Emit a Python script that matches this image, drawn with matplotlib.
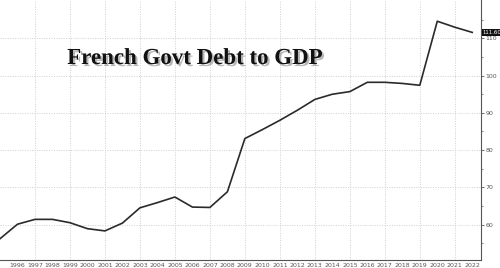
import numpy as np
import matplotlib.pyplot as plt
import matplotlib.patheffects as pe

# French government debt to GDP (%)
years = [1995, 1996, 1997, 1998, 1999, 2000, 2001, 2002, 2003, 2004, 2005,
         2006, 2007, 2008, 2009, 2010, 2011, 2012, 2013, 2014, 2015, 2016,
         2017, 2018, 2019, 2020, 2021, 2022]
debt = [56.2, 60.1, 61.4, 61.4, 60.5, 58.9, 58.3, 60.4, 64.5, 65.9, 67.4,
        64.7, 64.6, 68.8, 83.1, 85.5, 88.0, 90.7, 93.6, 95.0, 95.7, 98.2,
        98.2, 97.9, 97.4, 114.6, 113.0, 111.6]
x_labels = [str(y) for y in range(1996, 2023)]
y_ticks = [60, 70, 80, 90, 100, 110]
last_label = "111.60"

fig = plt.figure(figsize=(5, 2.68), dpi=100)
ax = fig.add_axes([0.0, 0.03, 0.962, 0.97])

ax.plot(years, debt, color="#2a2a2a", linewidth=1.2, zorder=3)

ax.set_xlim(1995, 2022.5)
ax.set_ylim(50.5, 120.3)

# grid: horizontal every 10, vertical every other year
ax.set_yticks(y_ticks)
ax.set_yticks(np.arange(55, 120, 10), minor=True)
ax.set_xticks(range(1996, 2023))
ax.set_xticklabels(x_labels)
for yy in y_ticks:
    ax.axhline(yy, color="#cfcfcf", linewidth=0.7, linestyle=(0, (1, 1.5)), zorder=1)
for xx in range(1997, 2023, 2):
    ax.axvline(xx, color="#cfcfcf", linewidth=0.7, linestyle=(0, (1, 1.5)), zorder=1)

ax.yaxis.tick_right()
ax.tick_params(axis="y", which="major", labelsize=4.5, length=2, width=0.6,
               colors="#555555", pad=1)
ax.tick_params(axis="y", which="minor", length=1.5, width=0.5, colors="#555555")
ax.tick_params(axis="x", labelsize=4.5, length=0, colors="#555555", pad=2)

for side in ["top", "left"]:
    ax.spines[side].set_visible(False)
ax.spines["right"].set_color("#555555")
ax.spines["right"].set_linewidth(0.8)
ax.spines["bottom"].set_color("#555555")
ax.spines["bottom"].set_linewidth(0.8)

# last value tag
ax.annotate(last_label, xy=(1.0, debt[-1]), xycoords=("axes fraction", "data"),
            xytext=(1.2, 0), textcoords="offset points", fontsize=3.9,
            color="white", va="center", ha="left",
            bbox=dict(boxstyle="square,pad=0.2", fc="#111111", ec="none"),
            annotation_clip=False)

# title
ax.text(0.405, 0.775, "French Govt Debt to GDP", transform=ax.transAxes,
        fontsize=16.5, fontweight="bold", family="Liberation Serif",
        color="#111111", ha="center", va="center", zorder=5,
        path_effects=[pe.withSimplePatchShadow(offset=(1.5, -1.5),
                                               shadow_rgbFace="#888888",
                                               alpha=0.6)])

fig.savefig("out.png", dpi=100)
